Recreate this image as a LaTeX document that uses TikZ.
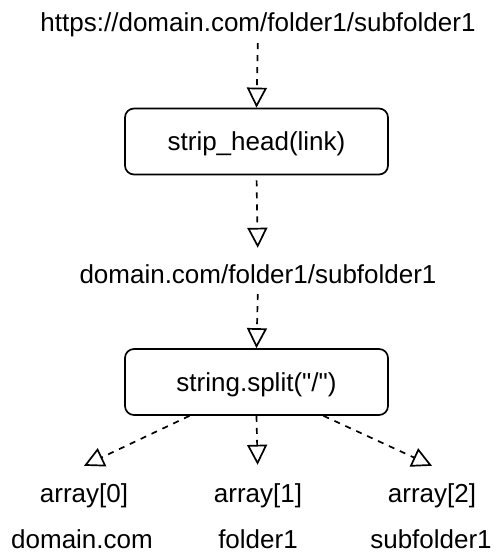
\documentclass[tikz,border=0pt]{standalone}
\usepackage{fontspec}
\setmainfont{Liberation Sans}[Ligatures=TeXOff]
\usetikzlibrary{arrows.meta}
\begin{document}
\begin{tikzpicture}[x=1pt,y=-1pt,
  every node/.style={font=\fontsize{26}{31}\selectfont},
  lbl/.style={inner sep=0pt, text height=19pt, text depth=0pt, anchor=base},
  fbox/.style={draw, line width=1.7pt, rounded corners=9pt, minimum width=263pt, minimum height=66pt, inner sep=0pt, text height=19pt, text depth=0pt},
  flow/.style={line width=1.7pt, dash pattern=on 6pt off 6pt,
    -{Triangle[open, length=20pt, width=20pt, line width=1.7pt]}}
]
\useasboundingbox (0,0) rectangle (495,553);
\node[lbl] (t0) at (258,32) {https://domain.com/folder1/subfolder1};
\node[fbox] (b1) at (256.5,141.5) {strip\_head(link)};
\node[lbl] (t1) at (258,283) {domain.com/folder1/subfolder1};
\node[fbox] (b2) at (256.5,382) {string.split("/")};
\node[lbl] (a0) at (84,502) {array[0]};
\node[lbl] (a1) at (258,502) {array[1]};
\node[lbl] (a2) at (432,502) {array[2]};
\node[lbl] (v0) at (82,548) {domain.com};
\node[lbl] (v1) at (258,548) {folder1};
\node[lbl] (v2) at (431,548) {subfolder1};
\draw[flow, shorten <=11pt] (t0.south) -- (b1.north);
\draw[flow, shorten <=5pt, shorten >=16pt] (b1.south) -- (t1.north);
\draw[flow, shorten <=11pt] (t1.south) -- (b2.north);
\draw[flow, shorten >=18pt] (b2.south) -- (a1.north);
\draw[flow] ([xshift=-67pt]b2.south) -- ([yshift=17pt]a0.north);
\draw[flow] ([xshift=67pt]b2.south) -- ([yshift=17pt]a2.north);
\end{tikzpicture}
\end{document}
